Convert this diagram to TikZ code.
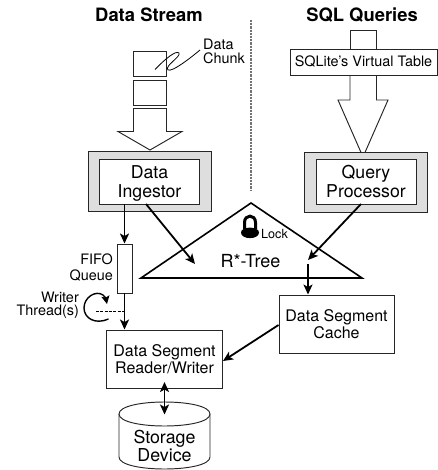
\documentclass[tikz,border=0pt]{standalone}
\usepackage{fontspec}
\setmainfont{TeX Gyre Heros}
\usetikzlibrary{arrows.meta,calc}
\definecolor{panel}{gray}{0.87}
\newcommand{\fs}[1]{\fontsize{#1}{#1}\selectfont}
\tikzset{
  x=1pt,y=-1pt,
  thin box/.style={draw=black!85,line width=0.95pt,fill=white,inner sep=0pt,align=center},
  outer box/.style={draw=black!85,line width=0.95pt,fill=panel,minimum width=123pt,minimum height=60pt,inner sep=0pt},
  inner box/.style={thin box,minimum width=100pt,minimum height=45pt,font=\fs{17.7},text depth=0pt},
  chunk/.style={thin box,minimum width=33pt,minimum height=25pt},
  seg box/.style={thin box,minimum width=116pt,minimum height=58pt,font=\fs{16}},
  label/.style={inner sep=0pt,align=center},
  side label/.style={inner sep=0pt,align=right,font=\fs{14.4}},
  title/.style={inner sep=0pt,font=\bfseries\fs{18.4}},
  flow/.style={line width=1.8pt,draw=black,-{Stealth[length=10pt,width=9pt,inset=2.5pt]}},
  both flow/.style={line width=1.8pt,draw=black,{Stealth[length=10pt,width=9pt,inset=2.5pt]}-{Stealth[length=10pt,width=9pt,inset=2.5pt]}},
  big arrow/.style={draw=black!85,line width=0.95pt,fill=white,line join=miter},
  tree/.style={draw=black,line width=1.6pt,fill=white,line join=miter},
}
\begin{document}
\begin{tikzpicture}
\useasboundingbox (0,0) rectangle (437,470);
% titles and divider
\node[title] (ds) at (149,15) {Data Stream};
\node[title] (sq) at (362,15) {SQL Queries};
\draw[black!55,line width=1.2pt,dash pattern=on 2.2pt off 1pt] (251,20) -- (251,190);
% data stream side
\node[chunk] (c1) at (150,64) {};
\node[chunk] (c2) at (150,92.5) {};
\draw[big arrow] (133.5,108.5) -- (166.5,108.5) -- (166.5,131.5) -- (182,131.5) -- (150,150) -- (118,131.5) -- (133.5,131.5) -- cycle;
\node[side label,align=left,anchor=west] (chunklabel) at (203,51) {Data\\[-0.5pt]Chunk};
\coordinate (sq0) at (155,69.5);
\coordinate (sq3) at (200,50);
\draw[line width=0.8pt] (sq0) .. controls (165,59) and (176,50) .. (179,53) .. controls (181,57) and (164,66) .. (168,70) .. controls (172,72) and (188,60) .. (sq3);
\node[outer box] (ingO) at (149.5,181) {};
\node[inner box] (ing) at (149.5,181.5) {Data\\[1pt]Ingestor};
% SQL side
\draw[thin box] (350,49) -- (350,30.5) -- (376.5,30.5) -- (376.5,49);
\draw[big arrow] (350,75) -- (376.5,75) -- (376.5,100) -- (388,100) -- (363,157) -- (338,100) -- (350,100) -- cycle;
\node[outer box] (qpO) at (365.5,182.5) {};
\node[inner box] (qp) at (366,181.5) {Query\\[1pt]Processor};
\node[thin box,minimum width=147pt,minimum height=26pt,font=\fs{14.4}] (vt) at (363.5,62) {SQLite's Virtual Table};
% triangle and lock
\draw[tree] (251,203) -- (362,278) -- (141,278) -- cycle;
\node[label,font=\fs{18}] (rtree) at (250.5,261) {R*-Tree};
\draw[line width=3pt] (244.5,229) -- (244.5,222.5) .. controls (244.5,214) and (255.5,214) .. (255.5,222.5) -- (255.5,229);
\fill (241,232.5) .. controls (241,226) and (259,226) .. (259,232.5) .. controls (259,240) and (241,240) .. (241,232.5) -- cycle;
\node[label,font=\fs{12.6},anchor=west] (lock) at (261,234) {Lock};
% queue
\node[thin box,minimum width=15pt,minimum height=49pt] (fifo) at (124.5,268.5) {};
\node[side label,anchor=east] (fifolabel) at (113,267.5) {FIFO\\[1pt]Queue};
\node[side label,anchor=east] (writer) at (79,305.5) {Writer\\[-1pt]Thread(s)};
% boxes
\node[seg box] (rw) at (164.5,359) {Data Segment\\[1pt]Reader/Writer};
\node[seg box,minimum width=115pt] (cache) at (336.5,324) {Data Segment\\[1pt]Cache};
% cylinder
\draw[thin box] (119,414) -- (119,457) .. controls (119,473) and (210,473) .. (210,457) -- (210,414);
\draw[thin box] (119,414) .. controls (119,398) and (210,398) .. (210,414) .. controls (210,430) and (119,430) .. (119,414) -- cycle;
\node[label,fill=white,font=\fs{17.8},inner xsep=1pt,inner ysep=1pt] (store) at (164.5,446) {Storage\\[1pt]Device};
% connectors
\draw[flow] (ing.south -| fifo.north) -- (fifo.north);
\draw[flow] (fifo.south) -- (fifo.south |- rw.north);
\coordinate (treeL) at (195,264);
\coordinate (treeR) at (308,260);
\coordinate (treeOut) at (308,264);
\coordinate (ingFoot) at (146,204);
\coordinate (qpFoot) at (361,204);
\draw[flow] (ingFoot) -- (treeL);
\draw[flow] (qpFoot) -- (treeR);
\draw[flow] (treeOut) -- (treeOut |- cache.north);
\coordinate (cacheL) at (cache.west |- 0,325);
\coordinate (rwR) at (rw.east |- 0,361);
\draw[flow] (cacheL) -- (rwR);
\coordinate (rwB) at (164.5,382);
\coordinate (storeT) at (164.5,414.5);
\draw[both flow] (rwB) -- (storeT);
% writer thread loop
\coordinate (loopEnd) at (107,304);
\coordinate (loopStart) at (108.5,319);
\coordinate (dashL) at (96,311);
\draw[line width=1.4pt,-{Stealth[length=8pt,width=8pt,inset=1.5pt]}] (loopStart) .. controls (95,325) and (84,318) .. (84,308) .. controls (84,297) and (96,290) .. (103,295) .. controls (105,296) and (106,299) .. (loopEnd);
\draw[line width=0.8pt,dash pattern=on 3pt off 1.3pt] (dashL) -- (dashL -| fifo.south);
\end{tikzpicture}
\end{document}
